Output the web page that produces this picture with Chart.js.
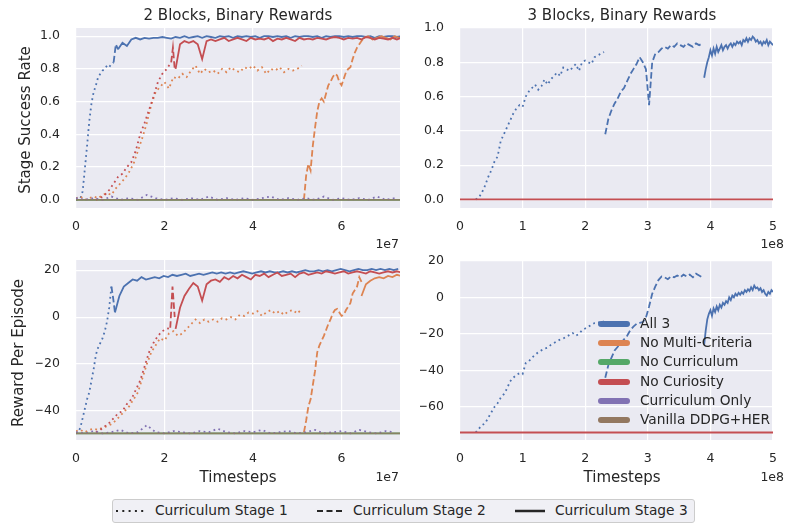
<!DOCTYPE html>
<html>
<head>
<meta charset="utf-8">
<script src="https://cdn.jsdelivr.net/npm/chart.js@4.4.1/dist/chart.umd.min.js"></script>
<style>
    body { margin: 0; background: #fff; font-family: "DejaVu Sans", sans-serif; color: #262626; }
    #fig { position: relative; width: 788px; height: 525px; overflow: hidden; }
    #fig canvas { position: absolute; left: 0; top: 0; }
    .txt { position: absolute; white-space: nowrap; line-height: 1; }
    .stage-legend { position: absolute; left: 112px; top: 499px; width: 581px; height: 22px;
        border: 1px solid #cccccc; border-radius: 3px; background: #f0f0f5; }
    .row { position: absolute; height: 6px; border-radius: 3px; }
</style>
</head>
<body>
<div id="fig">
    <canvas id="tl" width="788" height="525"></canvas>
    <canvas id="tr" width="788" height="525"></canvas>
    <canvas id="bl" width="788" height="525"></canvas>
    <canvas id="br" width="788" height="525"></canvas>
</div>
<script>
// ---- labels / ticks ----
var methodNames = ['All 3', 'No Multi-Criteria', 'No Curriculum', 'No Curiosity', 'Curriculum Only', 'Vanilla DDPG+HER'];
var stageNames = ['Curriculum Stage 1', 'Curriculum Stage 2', 'Curriculum Stage 3'];
var xTicksLeft = [0, 2, 4, 6];            // x 1e7
var xTicksRight = [0, 1, 2, 3, 4, 5];     // x 1e8
var yTicksSuccess = [0, 0.2, 0.4, 0.6, 0.8, 1.0];
var yTicksReward2 = [-40, -20, 0, 20];
var yTicksReward3 = [-60, -40, -20, 0, 20];

// ---- 2 blocks, success rate (x in 1e7 steps) ----
var tlAll3S1 = [0.00, 0.00, 0.01, 0.05, 0.19, 0.33, 0.48, 0.59, 0.66, 0.70, 0.75, 0.77, 0.79, 0.80, 0.82, 0.81, 0.83, 0.84];
var tlAll3S2 = [0.84, 0.95, 0.92];
var tlAll3S3 = [0.92, 0.96, 0.94, 0.98, 0.99, 0.98, 0.99, 0.985, 0.99, 0.99,
    0.995, 0.99, 0.985, 0.995, 0.99, 1.0, 0.99, 0.995, 1.0, 0.99,
    1.0, 0.995, 0.99, 1.0, 0.995, 1.0, 0.99, 1.0, 0.995, 1.0,
    0.995, 1.0, 0.99, 1.0, 1.0, 0.995, 1.0, 0.995, 1.0, 0.99,
    1.0, 0.995, 1.0, 1.0, 0.995, 1.0, 0.99, 1.0, 0.995, 1.0,
    1.0, 0.995, 1.0, 0.995, 1.0, 1.0, 0.995, 1.0, 0.99, 1.0,
    0.995, 1.0, 1.0, 0.995, 1.0];
var tlNoMultiS1 = [0.01, 0.02, 0.00, 0.01, 0.02, 0.01, 0.03, 0.04, 0.03, 0.07,
    0.10, 0.13, 0.17, 0.22, 0.30, 0.38, 0.47, 0.58, 0.66, 0.69,
    0.72, 0.68, 0.75, 0.74, 0.77, 0.75, 0.79, 0.82, 0.77, 0.80,
    0.78, 0.79, 0.77, 0.80, 0.78, 0.81, 0.79, 0.78, 0.81, 0.80,
    0.82, 0.79, 0.81, 0.77, 0.80, 0.79, 0.81, 0.78, 0.80, 0.79,
    0.80, 0.82];
var tlNoMultiS2 = [0.00, 0.15, 0.22, 0.18, 0.33, 0.44, 0.54, 0.60, 0.62, 0.60,
    0.65, 0.70, 0.72, 0.75, 0.77, 0.76, 0.72, 0.70, 0.74, 0.78,
    0.80, 0.81, 0.86, 0.90, 0.93, 0.95, 0.97, 0.99];
var tlNoMultiS3 = [0.99, 1.0, 0.98, 0.99, 1.0, 0.99, 0.98, 1.0, 0.99, 0.99];
var tlNoCurr = [0, 0, 0, 0, 0, 0, 0, 0, 0, 0, 0, 0, 0, 0, 0, 0];
var tlNoCurioS1 = [0.00, 0.01, 0.03, 0.06, 0.10, 0.14, 0.16, 0.20, 0.23, 0.30, 0.40, 0.47, 0.55, 0.63, 0.72, 0.77, 0.80, 0.84];
var tlNoCurioS2 = [0.84, 0.93, 0.80];
var tlNoCurioS3 = [0.80, 0.95, 0.97, 0.96, 0.97, 0.95, 0.86, 0.97, 0.98, 0.97,
    0.98, 0.99, 0.97, 0.98, 0.99, 0.98, 0.97, 0.99, 0.98, 0.985,
    0.98, 0.99, 0.97, 0.985, 0.98, 0.99, 0.98, 0.97, 0.99, 0.98,
    0.985, 0.98, 0.99, 0.985, 0.98, 0.99, 0.995, 0.99, 0.98, 0.99,
    0.985, 0.99, 0.98, 0.995, 0.99, 0.98, 0.99, 0.985, 0.98, 0.99,
    0.98, 0.99];
var tlCurrOnly = [0.01, 0.0, 0.01, 0.0, 0.02, 0.0, 0.01, 0.0, 0.03, 0.01,
    0.0, 0.01, 0.0, 0.01, 0.0, 0.02, 0.0, 0.01, 0.0, 0.01,
    0.0, 0.01, 0.02, 0.0, 0.01, 0.0, 0.01, 0.0, 0.02, 0.0,
    0.01, 0.0, 0.01, 0.0, 0.02, 0.0, 0.01];
var tlVanilla = [0, 0, 0, 0, 0, 0, 0, 0, 0, 0, 0, 0, 0, 0, 0, 0];

// ---- 2 blocks, reward per episode ----
var blAll3S1 = [-49.5, -49, -47, -43, -39, -35, -32, -27, -22, -16, -13, -11, -9, -6, -2, 4, 13];
var blAll3S2 = [13, 8, 2];
var blAll3S3 = [2, 9, 13, 14.5, 16, 15.5, 17, 16, 16.5, 17,
    16.5, 17.5, 17, 18, 17.5, 18, 18.5, 17.5, 18, 18.5,
    18, 18.5, 19, 18.5, 19, 18.5, 19, 18.5, 19, 19.5,
    19, 18.5, 19, 19.5, 19, 19.5, 19, 19, 19.5, 19,
    19.5, 19, 19.5, 20, 19.5, 19.5, 20, 19.5, 20, 19.5,
    20, 20.5, 20, 19.5, 20, 20.5, 20, 20, 20.5, 20,
    20.5, 20, 20.5, 20, 20.5];
var blNoMultiS1 = [-48.5, -48, -49, -48, -47.5, -48, -47, -46.5, -45.5, -44,
    -42, -40, -38, -35, -32, -26, -20, -15, -12, -9,
    -10, -7, -6, -8, -7, -5, -3, -1, -2.5, -1,
    -2, -1, -2, -0.5, -1, 0, -1, 1, 0.5, 2,
    1.5, 2.5, 0.5, 2, 3, 1.5, 2.5, 1, 2.5, 3,
    1.5, 3.5];
var blNoMultiS2 = [-49, -44, -38, -35, -29, -23, -15, -12, -10, -8,
    -5.5, -3, -1, 1.5, 3, 3.5, 2, 0.5, 1, 3,
    4.5, 6, 10, 11.5, 13, 17, 15];
var blNoMultiS3 = [9, 14, 15.5, 16.5, 17, 16.5, 17.5, 17, 18, 17.5];
var blNoCurr = [-49.5, -49.5, -49.5, -49.5, -49.5, -49.5, -49.5, -49.5, -49.5, -49.5, -49.5, -49.5, -49.5, -49.5, -49.5, -49.5];
var blNoCurioS1 = [-49, -48, -46.5, -45, -43, -41, -40, -37, -35, -31, -27, -21, -15, -11, -8, -6, -5, -4.5];
var blNoCurioS2 = [-4.5, 13, 0];
var blNoCurioS3 = [-5, 4, 9, 12, 14.5, 13, 7, 14, 15.5, 16,
    15, 17, 16, 17.5, 16.5, 18, 17, 16, 18, 17.5,
    18.5, 17, 18, 19, 17.5, 18, 18.5, 17, 18.5, 19,
    18, 18.5, 19, 18.5, 19.5, 19, 18.5, 19, 19.5, 18.5,
    19, 19.5, 19, 18.5, 19.5, 19, 18.5, 19, 19.5, 19,
    19.5, 19];
var blCurrOnly = [-49, -49.5, -48.5, -49.5, -49, -48, -49.5, -49, -46, -49,
    -49.5, -48.5, -49, -49.5, -48.5, -49, -47.5, -49, -49.5, -48.5,
    -49, -48, -49.5, -49, -48.5, -49.5, -49, -48, -49.5, -49,
    -48.5, -49.5, -48, -49, -49.5, -48.5, -49];
var blVanilla = [-49.5, -49.5, -49.5, -49.5, -49.5, -49.5, -49.5, -49.5, -49.5, -49.5, -49.5, -49.5, -49.5, -49.5, -49.5, -49.5];

// ---- 3 blocks, success rate (x in 1e8 steps) ----
var trAll3S1 = [0.00, 0.01, 0.04, 0.08, 0.13, 0.17, 0.22, 0.25, 0.34, 0.38,
    0.42, 0.46, 0.50, 0.53, 0.55, 0.54, 0.60, 0.63, 0.65, 0.67,
    0.64, 0.66, 0.70, 0.67, 0.70, 0.72, 0.74, 0.72, 0.77, 0.76,
    0.75, 0.77, 0.79, 0.75, 0.80, 0.81, 0.80, 0.79, 0.83, 0.84,
    0.85, 0.86];
var trAll3S2 = [0.38, 0.47, 0.52, 0.56, 0.59, 0.63, 0.65, 0.69, 0.73, 0.76,
    0.79, 0.83, 0.80, 0.76, 0.55, 0.80, 0.85, 0.86, 0.88, 0.89,
    0.88, 0.90, 0.89, 0.91, 0.90, 0.89, 0.91, 0.90, 0.89, 0.91,
    0.90, 0.91];
var trAll3S3 = [0.71, 0.76, 0.80, 0.83, 0.87, 0.84, 0.88, 0.85, 0.89, 0.86,
    0.88, 0.90, 0.87, 0.89, 0.90, 0.88, 0.90, 0.91, 0.89, 0.91,
    0.90, 0.92, 0.91, 0.92, 0.90, 0.93, 0.92, 0.94, 0.92, 0.94,
    0.93, 0.95, 0.94, 0.92, 0.93, 0.91, 0.92, 0.90, 0.92, 0.91,
    0.93, 0.90, 0.92, 0.91, 0.90];
var trNoCurio = [0, 0, 0, 0, 0, 0, 0, 0, 0, 0, 0];

// ---- 3 blocks, reward per episode ----
var brAll3S1 = [-74, -72, -70, -69, -66, -63, -60, -58, -55, -53,
    -50, -46, -44, -42.5, -41.5, -42, -36, -35, -33, -31.5,
    -30, -29, -28, -27.5, -26, -25, -24, -23, -22.5, -21.5,
    -20.5, -19.5, -21, -20, -18, -17, -16, -15, -14, -13.5,
    -14, -13];
var brAll3S2 = [-44, -37, -33, -29, -27, -25, -23, -21, -18, -16,
    -14.5, -14, -13.5, -11, -5, 2, 6, 9.5, 11.5, 11,
    10, 11.5, 11, 12, 11, 12.5, 11.5, 12.5, 11, 13,
    12, 11];
var brAll3S3 = [-26, -18, -12, -9, -7, -10, -6, -8, -5, -7,
    -4, -5.5, -3, -4, -2, -3, 0, -1.5, 1, 0,
    2, 1, 2.5, 1.5, 3, 2, 4, 3, 4.5, 3.5,
    5.5, 4, 6.5, 5, 5.5, 4, 5, 3, 4, 2,
    1, 3, 2, 4, 3];
var brNoCurio = [-74, -74, -74, -74, -74, -74, -74, -74, -74, -74, -74];

var methodColors = ['#4C72B0', '#DD8452', '#55A868', '#C44E52', '#8172B3', '#937860'];
var stageDash = [[1.8, 3.4], [6.5, 3], []];
var tickFont = { family: 'DejaVu Sans', size: 12.5 };
var textColor = '#262626';

function toPoints(x0, dx, ys) {
    return ys.map(function (y, i) {
        return { x: x0 + i * dx, y: y };
    });
}

var plotBg = {
    id: 'plotBg',
    beforeDraw: function (chart) {
        var a = chart.chartArea;
        var ctx = chart.ctx;
        ctx.save();
        ctx.fillStyle = '#EAEAF2';
        ctx.fillRect(a.left, a.top, a.right - a.left, a.bottom - a.top);
        ctx.restore();
    }
};

function drawPanel(canvasId, area, xRange, yRange, xTicks, yTicks, yFmt, series) {
    var datasets = series.map(function (s, i) {
        return {
            data: toPoints(s.x0, s.dx, s.ys),
            borderColor: s.color || methodColors[s.m],
            borderWidth: 1.8,
            borderDash: stageDash[s.s],
            pointRadius: 0,
            fill: false,
            tension: 0,
            order: -i
        };
    });

    new Chart(document.getElementById(canvasId), {
        type: 'line',
        data: { datasets: datasets },
        plugins: [plotBg],
        options: {
            responsive: false,
            animation: false,
            devicePixelRatio: 1,
            events: [],
            layout: {
                padding: { left: area.left - 40, top: area.top, right: 788 - area.right, bottom: 525 - area.bottom - 30 }
            },
            plugins: { legend: { display: false }, tooltip: { enabled: false } },
            scales: {
                x: {
                    type: 'linear',
                    min: xRange[0],
                    max: xRange[1],
                    afterBuildTicks: function (sc) { sc.ticks = xTicks.map(function (v) { return { value: v }; }); },
                    afterFit: function (sc) { sc.height = 30; },
                    grid: { color: '#ffffff', lineWidth: 1.2, drawTicks: false },
                    border: { display: false },
                    ticks: {
                        font: tickFont, color: textColor, padding: 11, maxRotation: 0, autoSkip: false,
                        callback: function (v) { return String(v); }
                    }
                },
                y: {
                    min: yRange[0],
                    max: yRange[1],
                    afterBuildTicks: function (sc) { sc.ticks = yTicks.map(function (v) { return { value: v }; }); },
                    afterFit: function (sc) { sc.width = 40; },
                    grid: { color: '#ffffff', lineWidth: 1.2, drawTicks: false },
                    border: { display: false },
                    ticks: {
                        font: tickFont, color: textColor, padding: 16, autoSkip: false,
                        callback: function (v) { return yFmt(v).replace('-', '\u2212'); }
                    }
                }
            }
        }
    });
}

function fmt1(v) { return v.toFixed(1); }
function fmt0(v) { return String(v); }

drawPanel('tl', { left: 76, top: 28, right: 400, bottom: 208 }, [0, 7.32], [-0.05, 1.05],
    xTicksLeft, yTicksSuccess, fmt1, [
        { m: 0, s: 0, x0: 0, dx: 0.05, ys: tlAll3S1 },
        { m: 0, s: 1, x0: 0.85, dx: 0.05, ys: tlAll3S2 },
        { m: 0, s: 2, x0: 0.95, dx: 0.1, ys: tlAll3S3 },
        { m: 1, s: 0, x0: 0, dx: 0.1, ys: tlNoMultiS1 },
        { m: 1, s: 1, x0: 5.15, dx: 0.05, ys: tlNoMultiS2 },
        { m: 1, s: 2, x0: 6.5, dx: 0.1, ys: tlNoMultiS3 },
        { m: 2, s: 2, x0: 0, dx: 0.5, ys: tlNoCurr },
        { m: 3, s: 0, x0: 0.45, dx: 0.1, ys: tlNoCurioS1 },
        { m: 3, s: 1, x0: 2.15, dx: 0.04, ys: tlNoCurioS2 },
        { m: 3, s: 2, x0: 2.25, dx: 0.1, ys: tlNoCurioS3 },
        { m: 4, s: 0, x0: 0, dx: 0.2, ys: tlCurrOnly },
        { m: 5, s: 2, x0: 0, dx: 0.5, ys: tlVanilla, color: 'rgba(147,120,96,0.8)' }
    ]);

drawPanel('bl', { left: 76, top: 260, right: 400, bottom: 440 }, [0, 7.32], [-52.3, 24.3],
    xTicksLeft, yTicksReward2, fmt0, [
        { m: 0, s: 0, x0: 0, dx: 0.05, ys: blAll3S1 },
        { m: 0, s: 1, x0: 0.8, dx: 0.04, ys: blAll3S2 },
        { m: 0, s: 2, x0: 0.88, dx: 0.1, ys: blAll3S3 },
        { m: 1, s: 0, x0: 0, dx: 0.1, ys: blNoMultiS1 },
        { m: 1, s: 1, x0: 5.15, dx: 0.05, ys: blNoMultiS2 },
        { m: 1, s: 2, x0: 6.45, dx: 0.1, ys: blNoMultiS3 },
        { m: 2, s: 2, x0: 0, dx: 0.5, ys: blNoCurr },
        { m: 3, s: 0, x0: 0.45, dx: 0.1, ys: blNoCurioS1 },
        { m: 3, s: 1, x0: 2.13, dx: 0.05, ys: blNoCurioS2 },
        { m: 3, s: 2, x0: 2.25, dx: 0.1, ys: blNoCurioS3 },
        { m: 4, s: 0, x0: 0, dx: 0.2, ys: blCurrOnly },
        { m: 5, s: 2, x0: 0, dx: 0.5, ys: blVanilla, color: 'rgba(147,120,96,0.8)' }
    ]);

drawPanel('tr', { left: 460, top: 28, right: 784, bottom: 208 }, [0, 5], [-0.05, 1.0],
    xTicksRight, yTicksSuccess, fmt1, [
        { m: 0, s: 0, x0: 0.25, dx: 0.05, ys: trAll3S1 },
        { m: 0, s: 1, x0: 2.32, dx: 0.05, ys: trAll3S2 },
        { m: 0, s: 2, x0: 3.9, dx: 0.025, ys: trAll3S3 },
        { m: 3, s: 2, x0: 0, dx: 0.5, ys: trNoCurio }
    ]);

drawPanel('br', { left: 460, top: 260, right: 784, bottom: 440 }, [0, 5], [-78.1, 20.5],
    xTicksRight, yTicksReward3, fmt0, [
        { m: 0, s: 0, x0: 0.25, dx: 0.05, ys: brAll3S1 },
        { m: 0, s: 1, x0: 2.32, dx: 0.05, ys: brAll3S2 },
        { m: 0, s: 2, x0: 3.9, dx: 0.025, ys: brAll3S3 },
        { m: 3, s: 2, x0: 0, dx: 0.5, ys: brNoCurio }
    ]);

// ---- text (titles, axis labels, offsets, legends) ----
var fig = document.getElementById('fig');

function addText(text, x, y, size, anchor, rotate) {
    var el = document.createElement('div');
    el.className = 'txt';
    el.textContent = text;
    el.style.left = x + 'px';
    el.style.top = y + 'px';
    el.style.fontSize = size + 'px';
    var tx = anchor == 'right' ? '-100%' : (anchor == 'left' ? '0' : '-50%');
    el.style.transform = 'translate(' + tx + ',-50%)' + (rotate ? ' rotate(-90deg)' : '');
    fig.appendChild(el);
    return el;
}

addText('2 Blocks, Binary Rewards', 238, 15, 15, 'center');
addText('3 Blocks, Binary Rewards', 622, 15, 15, 'center');
addText('Stage Success Rate', 25, 120, 15, 'center', true);
addText('Reward Per Episode', 18, 353, 15, 'center', true);
addText('Timesteps', 238, 477, 15, 'center');
addText('Timesteps', 622, 477, 15, 'center');
addText('1e7', 399, 244, 12.5, 'right');
addText('1e7', 399, 477, 12.5, 'right');
addText('1e8', 784, 244, 12.5, 'right');
addText('1e8', 784, 477, 12.5, 'right');

// method legend inside the lower right panel
methodNames.forEach(function (name, i) {
    var y = 324 + i * 19.2;
    var line = document.createElement('div');
    line.className = 'row';
    line.style.left = '598px';
    line.style.top = (y - 3) + 'px';
    line.style.width = '32px';
    line.style.background = methodColors[i];
    fig.appendChild(line);
    addText(name, 640, y, 13.75, 'left');
});

// stage legend under the panels
var box = document.createElement('div');
box.className = 'stage-legend';
fig.appendChild(box);
var sampleX = [116, 317, 515];
var textX = [155, 353, 555];
var dashCss = ['2 4.3', '6 3.5', ''];
stageNames.forEach(function (name, i) {
    var svg = document.createElementNS('http://www.w3.org/2000/svg', 'svg');
    svg.setAttribute('width', '32');
    svg.setAttribute('height', '6');
    svg.style.position = 'absolute';
    svg.style.left = sampleX[i] + 'px';
    svg.style.top = '508px';
    var ln = document.createElementNS('http://www.w3.org/2000/svg', 'line');
    ln.setAttribute('x1', '0');
    ln.setAttribute('x2', i == 2 ? '30' : '28');
    ln.setAttribute('y1', '3');
    ln.setAttribute('y2', '3');
    ln.setAttribute('stroke', textColor);
    ln.setAttribute('stroke-width', i == 2 ? '2.5' : '2');
    if (dashCss[i]) ln.setAttribute('stroke-dasharray', dashCss[i]);
    svg.appendChild(ln);
    fig.appendChild(svg);
    addText(name, textX[i], 511, 13.75, 'left');
});
</script>
</body>
</html>
